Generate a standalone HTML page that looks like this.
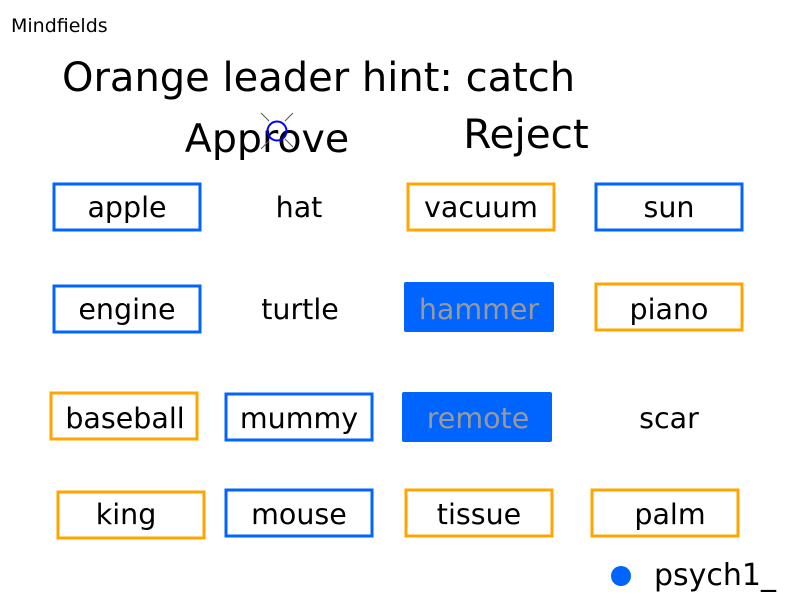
<!DOCTYPE html>
<html><head><style>
html,body{margin:0;padding:0;background:#fff;}
svg{display:block;font-family:"DejaVu Sans","Liberation Sans",sans-serif;}
</style></head><body>
<svg width="800" height="600" viewBox="0 0 800 600" xmlns="http://www.w3.org/2000/svg">
<rect width="800" height="600" fill="#fff"/>
<text x="11" y="32" font-size="19" fill="#000">Mindfields</text>
<text x="62" y="91" font-size="40" fill="#000">Orange leader hint: catch</text>
<text x="267" y="152" font-size="39.5" text-anchor="middle" fill="#000">Approve</text>
<text x="526" y="148" font-size="40.5" text-anchor="middle" fill="#000">Reject</text>
<g stroke="#555" stroke-width="1">
<line x1="261" y1="113" x2="269" y2="121"/>
<line x1="293" y1="113" x2="285" y2="121"/>
<line x1="261" y1="149" x2="269" y2="141"/>
<line x1="293" y1="147" x2="285" y2="139"/>
</g>
<circle cx="277" cy="131" r="9.5" fill="none" stroke="#0000ff" stroke-width="2"/>
<g fill="none" stroke-width="3">
<rect x="54" y="184" width="146" height="46" stroke="#0064ff"/>
<rect x="408" y="184" width="146" height="46" stroke="#ffa500"/>
<rect x="596" y="184" width="146" height="46" stroke="#0064ff"/>
<rect x="54" y="286" width="146" height="46" stroke="#0064ff"/>
<rect x="596" y="284" width="146" height="46" stroke="#ffa500"/>
<rect x="51" y="393" width="146" height="46" stroke="#ffa500"/>
<rect x="226" y="394" width="146" height="46" stroke="#0064ff"/>
<rect x="58" y="492" width="146" height="46" stroke="#ffa500"/>
<rect x="226" y="490" width="146" height="46" stroke="#0064ff"/>
<rect x="406" y="490" width="146" height="46" stroke="#ffa500"/>
<rect x="592" y="490" width="146" height="46" stroke="#ffa500"/>
</g>
<rect x="404" y="282" width="150" height="50" rx="2" fill="#0064ff"/>
<rect x="402" y="392" width="150" height="50" rx="2" fill="#0064ff"/>
<g font-size="28.5" text-anchor="middle" fill="#000">
<text x="127" y="217">apple</text>
<text x="299" y="217">hat</text>
<text x="481" y="217">vacuum</text>
<text x="669" y="217">sun</text>
<text x="127" y="319">engine</text>
<text x="300" y="319">turtle</text>
<text x="479" y="319" fill="#999">hammer</text>
<text x="669" y="319">piano</text>
<text x="125" y="428">baseball</text>
<text x="299" y="428">mummy</text>
<text x="478" y="428" fill="#999">remote</text>
<text x="669" y="428">scar</text>
<text x="126" y="524">king</text>
<text x="299" y="524">mouse</text>
<text x="479" y="524">tissue</text>
<text x="670" y="524">palm</text>
</g>
<circle cx="621" cy="576" r="10" fill="#0064ff"/>
<text x="654" y="585" font-size="30" fill="#000">psych1_</text>
</svg>
</body></html>
